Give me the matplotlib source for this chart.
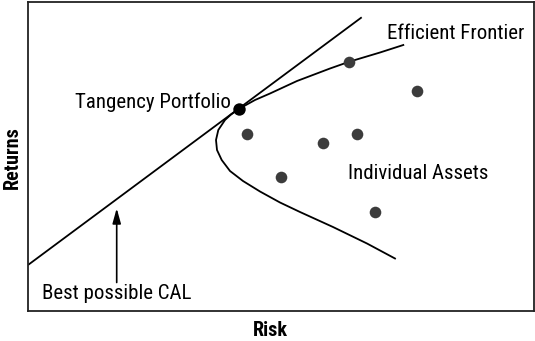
import matplotlib
matplotlib.use("Agg")
import matplotlib.pyplot as plt
from matplotlib import font_manager

names = {f.name for f in font_manager.fontManager.ttflist}
fam = [n for n in ["Liberation Sans Narrow", "Roboto Condensed", "Liberation Sans"] if n in names] + ["DejaVu Sans"]
plt.rcParams['font.family'] = fam

# Data (risk, return) in chart units
asset_risk = [218.7, 321.3, 389.3, 295.0, 329.3, 252.7, 346.7]
asset_return = [176.5, 249.0, 219.8, 167.2, 176.8, 133.5, 98.8]

tangency_risk = [211.3]
tangency_return = [201.8]

cal_risk = [0.0, 333.7]
cal_return = [45.5, 293.2]

frontier_risk = [375.3, 352.0, 321.3, 302.0, 269.0, 242.0, 227.0, 211.3,
                 203.0, 197.0, 190.3, 188.0, 189.0, 193.7, 202.0, 215.0,
                 232.0, 252.0, 272.0, 305.0, 339.0, 367.0]
frontier_return = [265.5, 258.0, 248.8, 242.0, 229.5, 217.0, 210.5, 201.8,
                   196.0, 190.5, 180.5, 170.5, 160.5, 150.5, 139.5, 129.5,
                   119.0, 108.0, 98.5, 83.5, 67.0, 52.0]

W, H = 535, 341
fig = plt.figure(figsize=(W / 100, H / 100), dpi=100)
ax = fig.add_axes([28 / W, (H - 310.5) / H, 505.5 / W, 309 / H])
ax.set_xlim(0, 505.5)
ax.set_ylim(0, 309)
ax.set_xticks([])
ax.set_yticks([])
for s in ax.spines.values():
    s.set_linewidth(1.3)
    s.set_color('#222222')

ax.plot(cal_risk, cal_return, color='black', lw=1.3, solid_capstyle='butt')
ax.plot(frontier_risk, frontier_return, color='black', lw=1.3, solid_joinstyle='round')
ax.scatter(asset_risk, asset_return, s=70, color='#3c3c3c', zorder=3, linewidths=0)
ax.scatter(tangency_risk, tangency_return, s=80, color='black', zorder=4, linewidths=0)

fs = 15
ax.text(47, 207.8, "Tangency Portfolio", fontsize=fs, ha='left', va='center')
ax.text(358.7, 277.2, "Efficient Frontier", fontsize=fs, ha='left', va='center')
ax.text(319.7, 137.2, "Individual Assets", fontsize=fs, ha='left', va='center')
ax.text(14.5, 17.2, "Best possible CAL", fontsize=fs, ha='left', va='center')

ax.annotate("", xy=(88.7, 102.2), xytext=(88.7, 28),
            arrowprops=dict(arrowstyle='-|>,head_length=0.9,head_width=0.25',
                            color='black', lw=1.2, shrinkA=0, shrinkB=0))

fig.text(270 / W, 1 - 330 / H, "Risk", fontsize=14.5, fontweight='bold', ha='center', va='center')
fig.text(12 / W, 1 - 158 / H, "Returns", fontsize=14.5, fontweight='bold', ha='center', va='center', rotation=90)

fig.savefig("out.png", dpi=100)
